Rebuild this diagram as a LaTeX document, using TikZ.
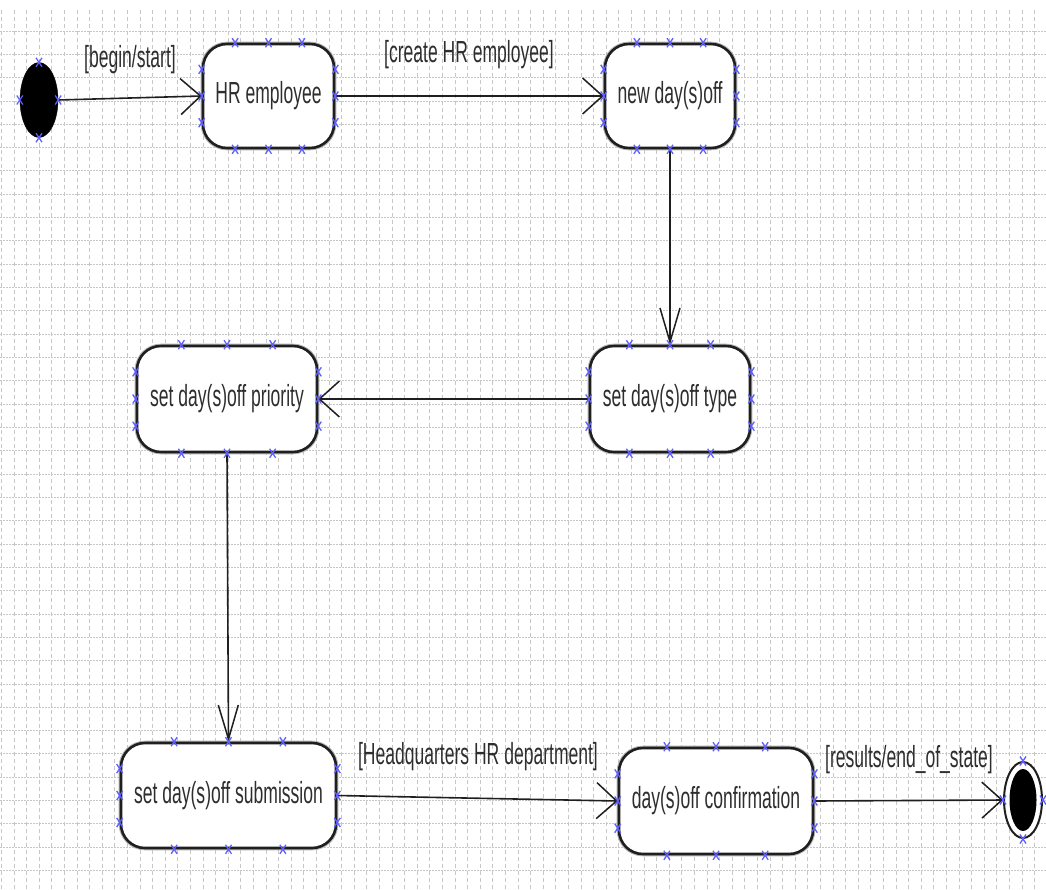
\documentclass[tikz,border=0pt]{standalone}
\usepackage{fontspec}
\newfontfamily\umlfont[FakeStretch=0.575]{Liberation Sans}
\usetikzlibrary{shapes.geometric,arrows.meta,calc}

\tikzset{
  pics/xmark/.style={code={%
    \draw[markline] (-3,-4.5) -- (3,4.5) (3,-4.5) -- (-3,4.5);}},
}
\newcommand\edgemarks[1]{%
  \foreach \f in {0.25,0.5,0.75}{%
    \pic at ($(#1.north west)!\f!(#1.north east)$) {xmark};
    \pic at ($(#1.south west)!\f!(#1.south east)$) {xmark};
    \pic at ($(#1.north west)!\f!(#1.south west)$) {xmark};
    \pic at ($(#1.north east)!\f!(#1.south east)$) {xmark};
  }}
\newcommand\polemarks[1]{%
  \foreach \a in {north,south,east,west}{\pic at (#1.\a) {xmark};}}

\begin{document}
\begin{tikzpicture}[x=1pt,y=-1pt,
  umltext/.style={font=\umlfont\fontsize{30.5}{36}\selectfont, text=black!82},
  state/.style={umltext, draw=black!88, line width=2.6pt, fill=white,
    rounded corners=24pt, inner sep=0pt,
    preaction={draw=black!30, line width=4.6pt}},
  guard/.style={umltext, inner sep=0pt},
  flow/.style={draw=black!88, line width=1.6pt},
  harrow/.style={flow, -{Straight Barb[length=20pt,width=36pt,line width=1.5pt]}},
  varrow/.style={flow, -{Straight Barb[length=34pt,width=20pt,line width=1.5pt]}},
  gridv/.style={draw=black!22, line width=0.9pt, dash pattern=on 4pt off 3pt},
  gridh/.style={draw=black!22, line width=0.9pt, dash pattern=on 1.5pt off 1.5pt},
  markline/.style={draw={rgb,255:red,95;green,95;blue,255}, line width=1.3pt},
  pseudo/.style={ellipse, inner sep=0pt},
]
\useasboundingbox (0,0) rectangle (1046,889);
\fill[white] (0,0) rectangle (1046,889);

% background grid
\foreach \k in {0,...,82}
  \draw[gridv] ({1.4+12.6*\k},10) -- ({1.4+12.6*\k},889);
\foreach \k in {0,...,36}
  \draw[gridh] (0,{31+23.32*\k}) -- (1046,{31+23.32*\k});

% states
\node[pseudo, fill=black, draw=black, minimum width=38pt, minimum height=75pt] (init) at (39,100) {};
\node[state, minimum width=131pt, minimum height=104pt] (hr)   at (268.5,96) {HR employee};
\node[state, minimum width=130pt, minimum height=104pt] (new)  at (670,96)   {new day(s)off};
\node[state, minimum width=160pt, minimum height=106pt] (type) at (670,399)  {set day(s)off type};
\node[state, minimum width=180pt, minimum height=106pt] (prio) at (227,399)  {set day(s)off priority};
\node[state, minimum width=215pt, minimum height=105pt] (sub)  at (228.5,795.5) {set day(s)off submission};
\node[state, minimum width=194pt, minimum height=106pt] (conf) at (716,801)  {day(s)off confirmation};
\node[pseudo, fill=white, draw=black!88, line width=2pt, minimum width=38pt, minimum height=76pt] (final) at (1023,800) {};
\node[pseudo, fill=black, minimum width=27pt, minimum height=62pt] (finalcore) at (final.center) {};

% transitions
\draw[harrow] (init.east) -- (hr.west);
\draw[harrow] (hr.east) -- (new.west);
\draw[varrow] (new.south) -- (type.north);
\draw[harrow] (type.west) -- (prio.east);
\draw[varrow] (prio.south) -- (sub.north);
\draw[harrow] (sub.east) -- (conf.west);
\draw[harrow] (conf.east) -- (final.west);

% guards
\node[guard] (g1) at (130,60)  {[begin/start]};
\node[guard] (g2) at (469,55)  {[create HR employee]};
\node[guard] (g3) at (478,757) {[Headquarters HR department]};
\node[guard] (g4) at (909,760) {[results/end\_of\_state]};

% selection handles
\polemarks{init}
\edgemarks{hr}
\edgemarks{new}
\edgemarks{type}
\edgemarks{prio}
\edgemarks{sub}
\edgemarks{conf}
\polemarks{final}
\end{tikzpicture}
\end{document}
